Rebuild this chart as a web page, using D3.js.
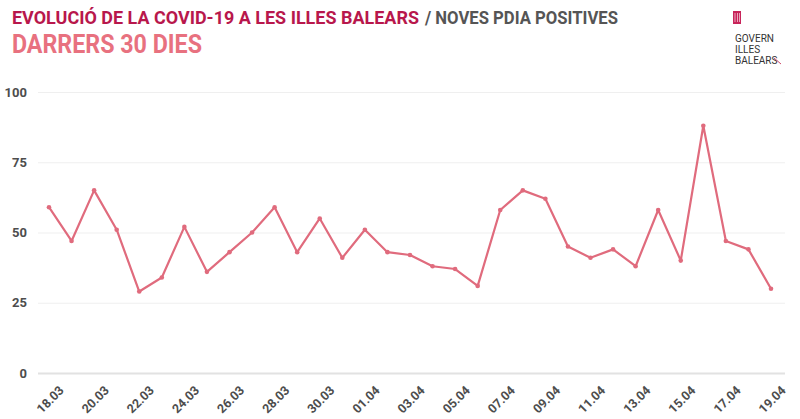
<!DOCTYPE html>
<html><head><meta charset="utf-8">
<script src="https://cdn.jsdelivr.net/npm/d3@7/dist/d3.min.js"></script>
<style>body{margin:0;background:#fff}svg{display:block}</style>
</head><body>
<script>
const dates = ["18.03","19.03","20.03","21.03","22.03","23.03","24.03","25.03","26.03","27.03","28.03","29.03","30.03","31.03","01.04","02.04","03.04","04.04","05.04","06.04","07.04","08.04","09.04","10.04","11.04","12.04","13.04","14.04","15.04","16.04","17.04","18.04","19.04"];
const values = [59,47,65,51,29,34,52,36,43,50,59,43,55,41,51,43,42,38,37,31,58,65,62,45,41,44,38,58,40,88,47,44,30];
const yTicks = [0,25,50,75,100];
const tickLabels = dates.filter((d,i)=>i%2===0);
const titleMain = "EVOLUCIÓ DE LA COVID-19 A LES ILLES BALEARS";
const titleSub = "/ NOVES PDIA POSITIVES";
const subtitle = "DARRERS 30 DIES";

const W=800,H=419;
const svg=d3.select("body").append("svg").attr("width",W).attr("height",H);
const font="Roboto, 'DejaVu Sans Condensed', sans-serif";

const x=d3.scalePoint().domain(dates).range([49,771]);
const y=d3.scaleLinear().domain([0,100]).range([373,92]);

// grid
const yAxis=d3.axisLeft(y).tickValues(yTicks).tickSize(-(785-38)).tickPadding(11);
const gy=svg.append("g").attr("transform","translate(38,0)").call(yAxis);
gy.select(".domain").remove();
gy.selectAll(".tick line").attr("stroke",d=>d===0?"#e2e2e2":"#efefef").attr("stroke-width",d=>d===0?2:1);
gy.selectAll(".tick text").attr("fill","#4d4d4d").style("font-family",font).style("font-weight","700").style("font-size","13px");

// x axis
const xAxis=d3.axisBottom(x).tickValues(tickLabels).tickSize(0).tickPadding(0);
const gx=svg.append("g").attr("transform","translate(0,382)").call(xAxis);
gx.select(".domain").remove();
gx.selectAll(".tick text").attr("fill","#4d4d4d").style("font-family",font).style("font-weight","700").style("font-size","12.5px")
  .attr("text-anchor","end").attr("dy","0.7em").attr("transform","translate(9,3) rotate(-45)");

// line
const col="#e06b7d";
svg.append("path").datum(values).attr("fill","none").attr("stroke",col).attr("stroke-width",2.2).attr("stroke-linejoin","round")
  .attr("d",d3.line().x((d,i)=>x(dates[i])).y(d=>y(d)));
svg.selectAll("circle.pt").data(values).join("circle").attr("class","pt")
  .attr("cx",(d,i)=>x(dates[i])).attr("cy",d=>y(d)).attr("r",2.3).attr("fill",col);

// titles
svg.append("text").attr("x",12).attr("y",24).attr("fill","#b8174c").style("font-family",font).style("font-weight","700").style("font-size","19px")
  .attr("textLength",407).attr("lengthAdjust","spacingAndGlyphs").text(titleMain);
svg.append("text").attr("x",425).attr("y",24).attr("fill","#555555").style("font-family",font).style("font-weight","700").style("font-size","19px")
  .attr("textLength",193).attr("lengthAdjust","spacingAndGlyphs").text(titleSub);
svg.append("text").attr("x",12).attr("y",53).attr("fill","#e8717f").style("font-family",font).style("font-weight","700").style("font-size","26px")
  .attr("textLength",190).attr("lengthAdjust","spacingAndGlyphs").text(subtitle);

// logo
const lg=svg.append("g");
lg.append("rect").attr("x",733).attr("y",11).attr("width",8).attr("height",13).attr("fill","#c8245a");
[735,737.5,739.5].forEach(xx=>lg.append("line").attr("x1",xx).attr("x2",xx).attr("y1",13).attr("y2",22).attr("stroke","#fff").attr("stroke-width",0.6));
const ls=[["GOVERN",42],["ILLES",53],["BALEARS",64]];
ls.forEach(([s,yy])=>lg.append("text").attr("x",735).attr("y",yy).attr("fill","#333").style("font-family",font).style("font-size","10px").text(s));
lg.append("line").attr("x1",774).attr("y1",58).attr("x2",781).attr("y2",64).attr("stroke","#d04a6a").attr("stroke-width",1);
</script>
</body></html>
